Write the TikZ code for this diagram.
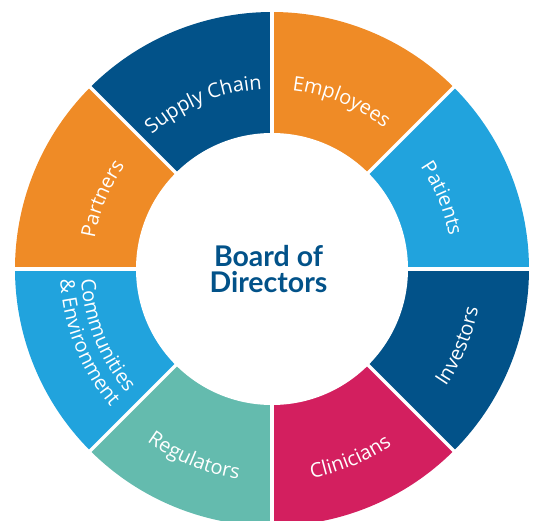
\documentclass[tikz,border=0pt]{standalone}
\usepackage{fontspec}
\setmainfont{Lato}
\newfontfamily\ringFamily{Open Sans}
\usepackage{tikz}
\usetikzlibrary{decorations.text}
\definecolor{ringBlue}{RGB}{2,82,137}
\definecolor{ringOrange}{RGB}{239,139,38}
\definecolor{ringSky}{RGB}{33,163,221}
\definecolor{ringMagenta}{RGB}{211,31,95}
\definecolor{ringTeal}{RGB}{100,187,174}
\newcommand{\ringOuter}{257pt}
\newcommand{\ringInner}{136pt}
\newcommand{\ringFont}{\ringFamily\fontsize{20}{22}\selectfont}

\begin{document}
\begin{tikzpicture}[gap/.style={draw=white, line width=3.5pt},
		ringtext/.style={decorate, decoration={text along path, text color=white, text align=center, text={|\ringFont|#1}}}]
	\path[use as bounding box, clip] (-272pt,-251pt) rectangle (264pt,269pt);
	%\begin{scope}{segments}
		\foreach \from/\to/\col in {90/135/ringBlue, 45/90/ringOrange, 0/45/ringSky, -45/0/ringBlue,
				-90/-45/ringMagenta, -135/-90/ringTeal, 180/225/ringSky, 135/180/ringOrange}
			\fill[\col] (0,0) -- (\from:\ringOuter) arc[start angle=\from, end angle=\to, radius=\ringOuter] -- cycle;
		\foreach \a in {0,45,...,315}
			\draw[gap] (0,0) -- (\a:262pt);
		\fill[white] (0,0) circle[radius=\ringInner];
	%\end{scope}
	\path[ringtext={Supply Chain}] (135:180pt) arc[start angle=135, end angle=90, radius=180pt];
	\path[ringtext={Employees}] (90:180pt) arc[start angle=90, end angle=45, radius=180pt];
	\path[ringtext={Patients}] (45:180pt) arc[start angle=45, end angle=0, radius=180pt];
	\path[ringtext={Partners}] (180:180pt) arc[start angle=180, end angle=135, radius=180pt];
	\path[ringtext={Investors}] (-45:210pt) arc[start angle=-45, end angle=0, radius=210pt];
	\path[ringtext={Clinicians}] (-90:213pt) arc[start angle=-90, end angle=-45, radius=213pt];
	\path[ringtext={Regulators}] (-135:213pt) arc[start angle=-135, end angle=-90, radius=213pt];
	\path[ringtext={Communities}, decoration={text align={left, left indent=10pt}}]
		(180:191pt) arc[start angle=180, end angle=225, radius=191pt];
	\path[ringtext={{\&} Environment}, decoration={text align={left, left indent=10pt}}]
		(180:212pt) arc[start angle=180, end angle=225, radius=212pt];
	\node[font=\fontsize{28.5}{26}\selectfont\bfseries, text=ringBlue, align=center] (board) at (-3.5pt,0) {Board of\\Directors};
\end{tikzpicture}
\end{document}
